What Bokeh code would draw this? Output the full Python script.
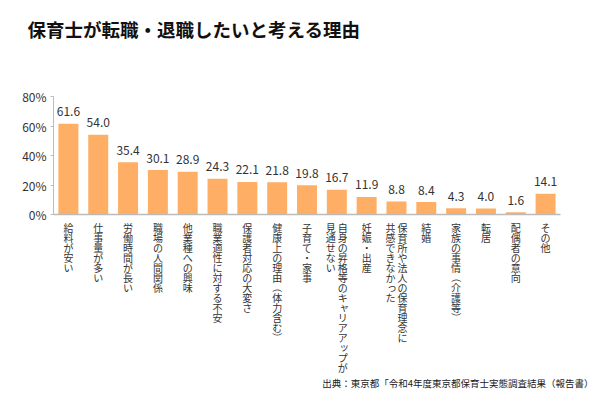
import math
from bokeh.plotting import figure
from bokeh.models import ColumnDataSource, LabelSet, Label, Range1d, FixedTicker, PrintfTickFormatter, Title
from bokeh.core.properties import value
from bokeh.embed import file_html
from bokeh.resources import INLINE

title_text = "保育士が転職・退職したいと考える理由"
source_text = "出典：東京都「令和4年度東京都保育士実態調査結果（報告書）"
categories = [
    "給料が安い", "仕事量が多い", "労働時間が長い", "職場の人間関係", "他業種への興味",
    "職業適性に対する不安", "保護者対応の大変さ", "健康上の理由（体力含む）", "子育て・家事",
    "自身の昇格等のキャリアアップが\n見通せない", "妊娠・出産",
    "保育所や法人の保育理念に\n共感できなかった", "結婚", "家族の事情（介護等）",
    "転居", "配偶者の意向", "その他",
]
values = [61.6, 54.0, 35.4, 30.1, 28.9, 24.3, 22.1, 21.8, 19.8, 16.7, 11.9, 8.8, 8.4, 4.3, 4.0, 1.6, 14.1]
y_ticks = [0, 20, 40, 60, 80]

FONT = "Noto Sans CJK JP"
BAR = "#FFAE66"

# layout (pixels on the canvas)
W, H = 600, 400
ML, MR, MT, MB = 53, 0, 45, 6
X_END = 560          # right end of the category axis
Y_ZERO, Y_TOP = 214, 96   # pixel rows of 0% and 80%
N = len(categories)
pxx = (X_END - ML) / N            # pixels per category
pxy = (Y_ZERO - Y_TOP) / 80.0     # pixels per percent
x_lo = -0.5
x_hi = x_lo + (W - MR - ML) / pxx
y_hi = 80 + (Y_TOP - MT) / pxy
y_lo = -((H - MB) - Y_ZERO) / pxy

p = figure(width=W, height=H, output_backend="svg", toolbar_location=None,
           x_range=Range1d(x_lo, x_hi), y_range=Range1d(y_lo, y_hi),
           min_border_left=ML, min_border_right=MR, min_border_top=MT, min_border_bottom=MB)
p.outline_line_color = None
p.xgrid.visible = False
p.ygrid.visible = False
p.background_fill_color = "white"
p.border_fill_color = "white"

p.title = Title(text=title_text, align="left", offset=-26, standoff=8,
                text_font=FONT, text_font_size="18.5px", text_font_style="bold",
                text_color="#111111")

idx = list(range(N))
src = ColumnDataSource(dict(x=idx, top=values, lab=["%.1f" % v for v in values]))
p.vbar(x="x", top="top", width=0.67, source=src, fill_color=BAR, line_color=None)

p.add_layout(LabelSet(x="x", y="top", text="lab", source=src, y_offset=12,
                      text_align="center", text_baseline="middle",
                      text_font=value(FONT), text_font_size=value("12px"), text_color="#333333"))

# y axis
ya = p.yaxis[0]
ya.bounds = (0, 80)
ya.ticker = FixedTicker(ticks=y_ticks)
ya.formatter = PrintfTickFormatter(format="%d%%")
ya.axis_line_color = "#BBBBBB"
ya.major_tick_line_color = "#BBBBBB"
ya.major_tick_out = 3
ya.major_tick_in = 0
ya.minor_tick_line_color = None
ya.major_label_standoff = 4
ya.major_label_text_font = FONT
ya.major_label_text_font_size = "12px"
ya.major_label_text_color = "#333333"

# x axis: line only, at 0%
xa = p.xaxis[0]
xa.fixed_location = 0
xa.bounds = (x_lo, N - 0.5)
xa.ticker = FixedTicker(ticks=[])
xa.axis_line_color = "#BBBBBB"
xa.axis_line_width = 1.5
xa.major_tick_line_color = None
xa.minor_tick_line_color = None

# vertical (tategaki) category labels, one character per text item
small = set("ッャュョァィゥェォっゃゅょぁぃぅぇぉ")
rot = set("（）")
STEP = 10
COLGAP = 12
norm = dict(x=[], y=[], t=[])
turned = dict(x=[], y=[], t=[])
for i, cat in enumerate(categories):
    cols = cat.split("\n")
    n = len(cols)
    for j, col in enumerate(cols):
        off = (n - 1) / 2 * COLGAP - j * COLGAP
        for k, c in enumerate(col):
            sx = off + (1.5 if c in small else 0)
            sy = -13 - k * STEP + (1.5 if c in small else 0)
            d = turned if c in rot else norm
            d["x"].append(i + sx / pxx)
            d["y"].append(sy / pxy)
            d["t"].append(c)
for d, a in ((norm, 0), (turned, -math.pi / 2)):
    p.add_layout(LabelSet(x="x", y="y", text="t", source=ColumnDataSource(d), angle=a,
                          text_align="center", text_baseline="middle",
                          text_font=value(FONT), text_font_size=value("10px"),
                          text_color="#333333"))

p.add_layout(Label(x=x_lo + (593 - ML) / pxx, y=-(382 - Y_ZERO) / pxy, text=source_text,
                   text_font=FONT, text_font_size="9.5px",
                   text_color="#222222", text_align="right", text_baseline="middle"))

open("out.html", "w").write(file_html(p, INLINE))
